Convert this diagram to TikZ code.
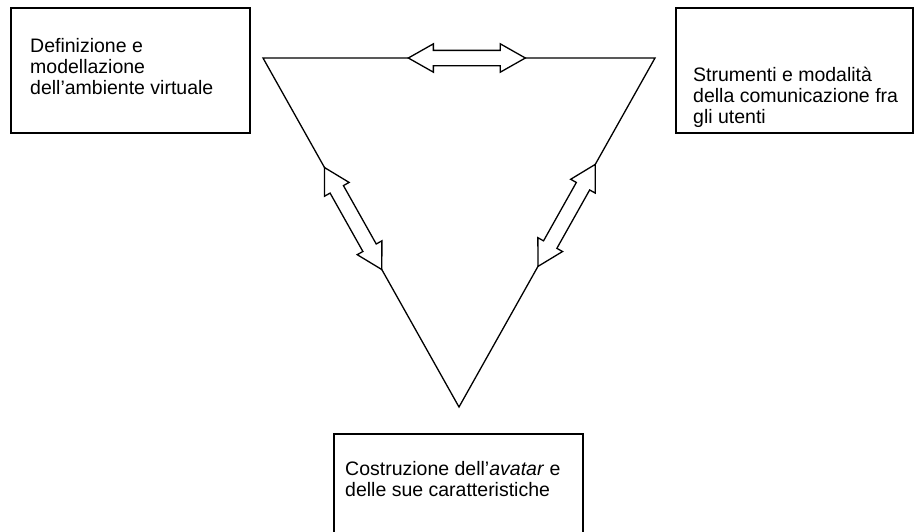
\documentclass[tikz,border=0pt]{standalone}
\usepackage{fontspec}
\setmainfont{Liberation Sans}
\usetikzlibrary{positioning,shapes.arrows}
\tikzset{
  box/.style={draw=black, line width=2pt, inner sep=0pt, anchor=north west},
  lbl/.style={align=left, inner sep=0pt, font=\fontsize{19.5}{21}\selectfont},
  edge/.style={draw=black, line width=1.3pt, line join=miter},
  % frecce doppie sui lati
  darr/.style={double arrow, draw=black, fill=white, line width=1.3pt,
    inner xsep=0pt, inner ysep=7pt, minimum height=117pt,
    double arrow head extend=6.5pt, double arrow tip angle=59, sloped}
}
\begin{document}
\begin{tikzpicture}[x=1pt,y=-1pt]
  \useasboundingbox (0,0) rectangle (914,531);
  \clip (0,0) rectangle (914,531);
  % riquadri
  \node[box, minimum width=239pt, minimum height=125pt] (amb) at (10,7) {};
  \node[box, minimum width=237pt, minimum height=125pt] (com) at (675,7) {};
  \node[box, minimum width=249pt, minimum height=140pt] (ava) at (333,433) {};
  \node[lbl, below right=31pt and 20pt of amb.north west] (tamb)
    {Definizione e\\modellazione\\dell’ambiente virtuale};
  \node[lbl, below right=60pt and 18pt of com.north west] (tcom)
    {Strumenti e modalità\\della comunicazione fra\\gli utenti};
  \node[lbl, below right=28pt and 12pt of ava.north west] (tava)
    {Costruzione dell’\textit{avatar} e\\delle sue caratteristiche};
  % triangolo
  \coordinate (tl) at (263,58);
  \coordinate (tr) at (655,58);
  \coordinate (bt) at (459,407);
  \draw[edge] (tl) -- node[darr, pos=0.52] (ab) {}
    (tr) -- node[darr, pos=0.451] (bc) {}
    (bt) -- node[darr, pos=0.54] (ca) {} cycle;
\end{tikzpicture}
\end{document}
